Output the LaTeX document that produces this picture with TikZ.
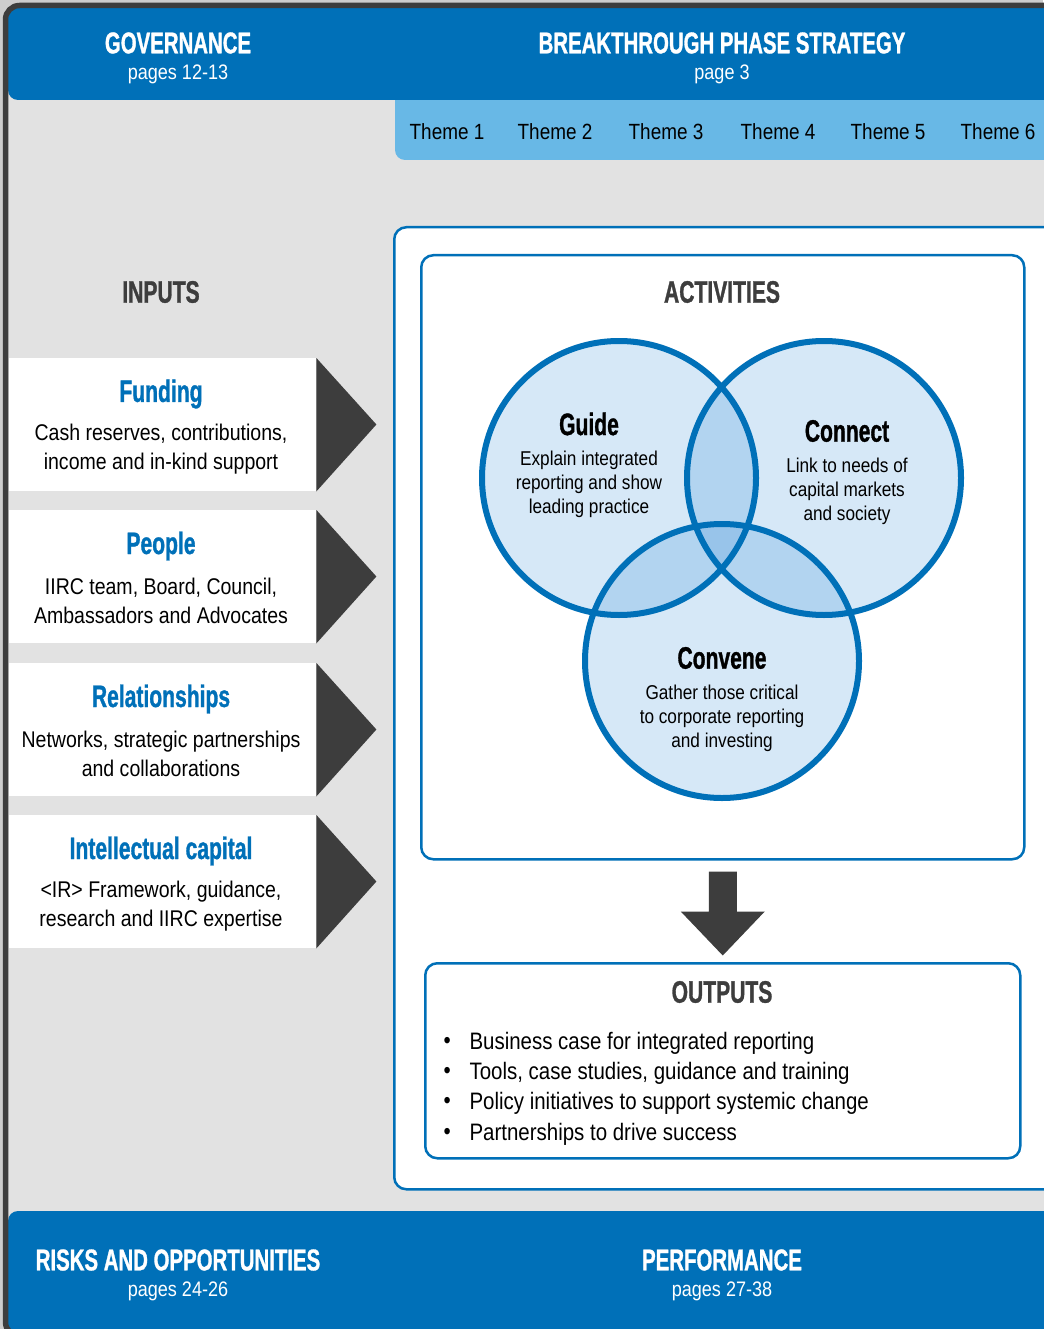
\documentclass[tikz,border=0pt]{standalone}
\usepackage{fontspec}
\setmainfont[FakeStretch=0.86]{Liberation Sans}
\newfontfamily\headfont[FakeStretch=0.68,FakeBold=1]{Liberation Sans}
\usepackage{tikz}
\definecolor{iircblue}{RGB}{0,112,184}
\definecolor{themeblue}{RGB}{104,184,230}
\definecolor{pagegray}{RGB}{226,226,226}
\definecolor{outgray}{RGB}{205,205,205}
\definecolor{arrowgray}{RGB}{61,61,61}
\definecolor{vennfill}{RGB}{214,232,247}
\definecolor{venntwo}{RGB}{178,212,240}
\definecolor{vennthree}{RGB}{152,196,234}
\tikzstyle{bartitle}=[text=white,font=\headfont\bfseries\fontsize{30}{32}\selectfont]
\tikzstyle{barpages}=[text=white,font=\fontsize{21}{24}\selectfont]
\tikzstyle{theme}=[font=\fontsize{22}{24}\selectfont]
\tikzstyle{heading}=[text=arrowgray,font=\headfont\bfseries\fontsize{31}{32}\selectfont]
\tikzstyle{inbox}=[fill=white,anchor=north west,minimum width=307,minimum height=133,inner sep=0pt]
\tikzstyle{intitle}=[text=iircblue,font=\headfont\bfseries\fontsize{31}{32}\selectfont]
\tikzstyle{indesc}=[align=center,font=\fontsize{22.7}{29}\selectfont]
\tikzstyle{panel}=[draw=iircblue,line width=2.5,fill=white,rounded corners=12,anchor=north west,inner sep=0pt]
\tikzstyle{vennring}=[draw=iircblue,line width=6]
\tikzstyle{venntitle}=[font=\headfont\bfseries\fontsize{31}{32}\selectfont]
\tikzstyle{venntext}=[align=center,font=\fontsize{20}{24}\selectfont]
\tikzstyle{outitem}=[anchor=west,font=\fontsize{23.8}{30}\selectfont]

\begin{document}
\begin{tikzpicture}[x=1pt,y=-1pt]
    \useasboundingbox (0,0) rectangle (1043,1329);
    % Page and frame
    \fill[outgray] (0,0) rectangle (1043,1329);
    \fill[pagegray,rounded corners=14] (5.5,5.5) rectangle (1090,1336);
    % Top and bottom bars
    \fill[themeblue,rounded corners=10] (395,80) rectangle (1080,160);
    \fill[iircblue,rounded corners=10] (8,8) rectangle (1080,100);
    \fill[iircblue,rounded corners=10] (8,1211) rectangle (1080,1345);
    \draw[arrowgray,line width=5.5,rounded corners=14] (1090,5.5) -- (5.5,5.5) -- (5.5,1336) -- (1090,1336);
    \node[bartitle] (gov) at (178,43) {GOVERNANCE};
    \node[barpages] (govp) at (178,74) {pages 12-13};
    \node[bartitle] (bps) at (722,43) {BREAKTHROUGH PHASE STRATEGY};
    \node[barpages] (bpsp) at (722,74) {page 3};
    \node[bartitle] (risk) at (178,1260) {RISKS AND OPPORTUNITIES};
    \node[barpages] (riskp) at (178,1291) {pages 24-26};
    \node[bartitle] (perf) at (722,1260) {PERFORMANCE};
    \node[barpages] (perfp) at (722,1291) {pages 27-38};
    % Themes
    \foreach \x/\n in {447/1, 555/2, 666/3, 778/4, 888/5, 998/6}
        \node[theme] (theme\n) at (\x,132) {Theme \n};
    % Inputs
    \node[heading] (inputs) at (161,292) {INPUTS};
    \foreach \y/\nm/\ttl/\desc in {358/funding/Funding/{Cash reserves, contributions,\\income and in-kind support},
        510/people/People/{IIRC team, Board, Council,\\Ambassadors and Advocates},
        663/relations/Relationships/{Networks, strategic partnerships\\and collaborations},
        815/intellect/Intellectual capital/{<IR> Framework, guidance,\\research and IIRC expertise}}
    {
        \node[inbox] (\nm) at (9,\y) {};
        \fill[arrowgray] (\nm.north east) -- ++(60,66.5) -- (\nm.south east) -- cycle;
        \node[intitle] (\nm title) at (161,\y+36) {\ttl};
        \node[indesc] (\nm text) at (161,\y+91) {\desc};
    }
    % Activities and outputs panels
    \node[panel,minimum width=680,minimum height=962] (strategy) at (393,226) {};
    \node[panel,minimum width=603,minimum height=604] (activities) at (420,254) {};
    \node[panel,minimum width=595,minimum height=195] (outputs) at (424,962) {};
    \node[heading] (acttitle) at (722,292) {ACTIVITIES};
    % Venn circles
    \fill[vennfill] (619,478) circle (137pt) (824,478) circle (137pt) (722,661) circle (137pt);
    \begin{scope}
        \clip (619,478) circle (137pt);
        \fill[venntwo] (824,478) circle (137pt) (722,661) circle (137pt);
    \end{scope}
    \begin{scope}
        \clip (824,478) circle (137pt);
        \fill[venntwo] (722,661) circle (137pt);
    \end{scope}
    \begin{scope}
        \clip (619,478) circle (137pt);
        \clip (824,478) circle (137pt);
        \fill[vennthree] (722,661) circle (137pt);
    \end{scope}
    \foreach \c in {(619,478), (824,478), (722,661)}
        \path[vennring] \c circle (137pt);
    \node[venntitle] (guide) at (589,424) {Guide};
    \node[venntext] (guidetext) at (589,484) {Explain integrated\\reporting and show\\leading practice};
    \node[venntitle] (connect) at (847,431) {Connect};
    \node[venntext] (connecttext) at (847,491) {Link to needs of\\capital markets\\and society};
    \node[venntitle] (convene) at (722,658) {Convene};
    \node[venntext] (convenetext) at (722,718) {Gather those critical\\to corporate reporting\\and investing};
    % Arrow down to outputs
    \fill[arrowgray] (activities.south) ++(-14,11) -- ++(28,0) -- ++(0,40) -- ++(28,0) -- ++(-42,44) -- ++(-42,-44) -- ++(28,0) -- cycle;
    \node[heading] (outtitle) at (722,992) {OUTPUTS};
    \foreach \y/\txt in {1040/{Business case for integrated reporting}, 1070/{Tools, case studies, guidance and training},
        1100/{Policy initiatives to support systemic change}, 1131/{Partnerships to drive success}}
    {
        \node[outitem] (bullet\y) at (440,\y+3) {\textbullet};
        \node[outitem] (item\y) at (466,\y+3) {\txt};
    }
\end{tikzpicture}
\end{document}
